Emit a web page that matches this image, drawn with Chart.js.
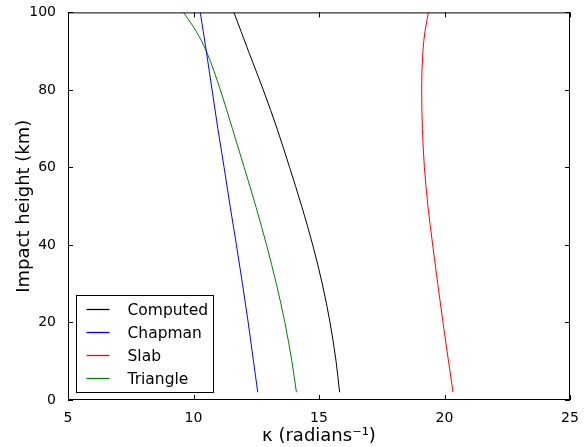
<!DOCTYPE html>
<html>
<head>
<meta charset="utf-8">
<script src="https://cdn.jsdelivr.net/npm/chart.js@4/dist/chart.umd.min.js"></script>
<style>
  html, body { margin: 0; padding: 0; background: #fff; }
  #wrap { width: 587px; height: 447px; }
</style>
</head>
<body>
<div id="wrap"><canvas id="kappaChart"></canvas></div>
<script>
const heights = [2, 10, 20, 30, 40, 50, 60, 70, 80, 90, 95, 100];

// kappa (radians^-1) per model
const computed = [15.82, 15.68, 15.44, 15.13, 14.75, 14.31, 13.83, 13.33, 12.78, 12.19, 11.90, 11.61];
const chapman  = [12.56, 12.39, 12.18, 11.95, 11.71, 11.46, 11.22, 10.97, 10.74, 10.51, 10.39, 10.27];
const slab     = [20.34, 20.16, 19.94, 19.73, 19.53, 19.34, 19.20, 19.12, 19.09, 19.14, 19.22, 19.36];
const triangle = [14.10, 13.92, 13.64, 13.30, 12.91, 12.48, 12.02, 11.55, 11.07, 10.51, 10.12, 9.60];

const seriesNames = ['Computed', 'Chapman', 'Slab', 'Triangle'];
const seriesColors = ['#000000', '#0000ff', '#ff0000', '#008000'];

const xTicks = [5, 10, 15, 20, 25];
const yTicks = [0, 20, 40, 60, 80, 100];

const FONT = "'DejaVu Sans', sans-serif";

function toPoints(xs) {
    return xs.map((x, i) => ({ x: x, y: heights[i] }));
}

// matplotlib-like frame, inward ticks and legend box in the lower left
const framePlugin = {
    id: 'frame',
    afterDatasetsDraw(chart) {
        const { ctx, chartArea: a, scales } = chart;
        ctx.save();
        ctx.strokeStyle = '#000';
        ctx.lineWidth = 1;
        ctx.strokeRect(a.left + 0.5, a.top + 0.5, a.right - a.left - 1, a.bottom - a.top - 1);

        ctx.beginPath();
        xTicks.forEach(v => {
            const px = Math.round(scales.x.getPixelForValue(v)) + 0.5;
            ctx.moveTo(px, a.bottom);
            ctx.lineTo(px, a.bottom - 5);
            ctx.moveTo(px, a.top);
            ctx.lineTo(px, a.top + 5);
        });
        yTicks.forEach(v => {
            const py = Math.round(scales.y.getPixelForValue(v)) + 0.5;
            ctx.moveTo(a.left, py);
            ctx.lineTo(a.left + 5, py);
            ctx.moveTo(a.right, py);
            ctx.lineTo(a.right - 5, py);
        });
        ctx.stroke();

        // legend
        const bx = a.left + 8.5, bh = 97, bw = 137;
        const by = a.bottom - 7.5 - bh;
        ctx.fillStyle = '#fff';
        ctx.fillRect(bx, by, bw, bh);
        ctx.strokeStyle = '#000';
        ctx.strokeRect(bx, by, bw, bh);
        ctx.font = '15.5px ' + FONT;
        ctx.textBaseline = 'middle';
        seriesNames.forEach((name, i) => {
            const ry = Math.round(by + 13 + i * 23) + 0.5;
            ctx.strokeStyle = seriesColors[i];
            ctx.lineWidth = 1.3;
            ctx.beginPath();
            ctx.moveTo(bx + 10, ry);
            ctx.lineTo(bx + 33, ry);
            ctx.stroke();
            ctx.fillStyle = '#000';
            ctx.fillText(name, bx + 51, ry + 1);
        });
        ctx.restore();
    }
};

new Chart(document.getElementById('kappaChart'), {
    type: 'scatter',
    data: {
        datasets: [computed, chapman, slab, triangle].map((vals, i) => ({
            label: seriesNames[i],
            data: toPoints(vals),
            showLine: true,
            cubicInterpolationMode: 'monotone',
            borderColor: seriesColors[i],
            backgroundColor: seriesColors[i],
            borderWidth: 1,
            pointRadius: 0
        }))
    },
    options: {
        indexAxis: 'y',
        responsive: true,
        maintainAspectRatio: false,
        animation: false,
        layout: { padding: { top: 10, right: 17, left: 0, bottom: 0 } },
        plugins: {
            legend: { display: false },
            tooltip: { enabled: false }
        },
        scales: {
            x: {
                type: 'linear',
                position: 'bottom',
                min: 5,
                max: 25,
                afterBuildTicks: s => { s.ticks = xTicks.map(v => ({ value: v })); },
                afterFit: s => { s.height = 47; },
                grid: { display: false },
                border: { display: false },
                ticks: { color: '#000', font: { size: 14, family: FONT }, padding: 2 },
                title: {
                    display: true,
                    text: 'κ (radians⁻¹)',
                    color: '#000',
                    font: { size: 18, family: FONT },
                    padding: { top: 2, bottom: 0 }
                }
            },
            y: {
                type: 'linear',
                position: 'left',
                min: 0,
                max: 100,
                afterBuildTicks: s => { s.ticks = yTicks.map(v => ({ value: v })); },
                afterFit: s => { s.width = 68; },
                grid: { display: false },
                border: { display: false },
                ticks: { color: '#000', font: { size: 14, family: FONT }, padding: 4 },
                title: {
                    display: true,
                    text: 'Impact height (km)',
                    color: '#000',
                    font: { size: 18, family: FONT },
                    padding: { top: 14, bottom: 0 }
                }
            }
        }
    },
    plugins: [framePlugin]
});
</script>
</body>
</html>
